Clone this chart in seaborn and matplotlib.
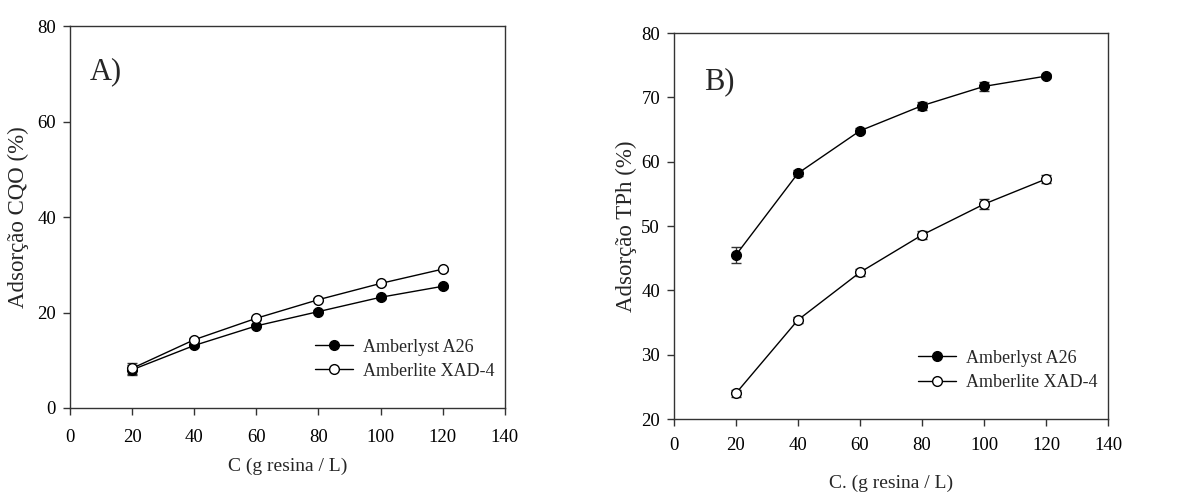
import matplotlib
matplotlib.use("Agg")
import matplotlib.pyplot as plt
import seaborn as sns
import pandas as pd
from matplotlib.lines import Line2D

# Resin dose (g resin / L)
dose = [20, 40, 60, 80, 100, 120]

# COD adsorption (%)
cqo_a26 = [8.0, 13.1, 17.2, 20.2, 23.2, 25.5]
cqo_a26_err = [1.0, 0.3, 0.3, 0.3, 0.3, 0.3]
cqo_xad4 = [8.3, 14.3, 18.8, 22.7, 26.1, 29.1]
cqo_xad4_err = [1.2, 0.4, 0.3, 0.3, 0.3, 0.3]

# Total phenols adsorption (%)
tph_a26 = [45.5, 58.2, 64.8, 68.7, 71.7, 73.3]
tph_a26_err = [1.2, 0.5, 0.4, 0.6, 0.7, 0.3]
tph_xad4 = [24.0, 35.4, 42.8, 48.6, 53.4, 57.3]
tph_xad4_err = [0.5, 0.4, 0.5, 0.6, 0.8, 0.6]

series_names = ["Amberlyst A26", "Amberlite XAD-4"]

sns.set_style("ticks")
plt.rcParams["font.family"] = ["Liberation Serif", "DejaVu Serif"]
plt.rcParams["axes.edgecolor"] = "#333333"
plt.rcParams["axes.linewidth"] = 1.0

fig = plt.figure(figsize=(12.02, 4.95), dpi=100)
ax1 = fig.add_axes([0.0582, 0.1758, 0.3618, 0.7712])
ax2 = fig.add_axes([0.5607, 0.1535, 0.3611, 0.7798])


def draw_panel(ax, y_filled, e_filled, y_open, e_open, xpad, legend_anchor):
    df = pd.DataFrame({
        "dose": dose * 2,
        "val": list(y_filled) + list(y_open),
        "resin": [series_names[0]] * 6 + [series_names[1]] * 6,
    })
    for name, fc, ys, es in [(series_names[0], "black", y_filled, e_filled),
                             (series_names[1], "white", y_open, e_open)]:
        ax.errorbar(dose, ys, yerr=es, fmt="none", ecolor="#333333",
                    elinewidth=1.0, capsize=3.6, capthick=1.0, zorder=2)
        sns.lineplot(data=df[df["resin"] == name], x="dose", y="val", ax=ax,
                     color="black", linewidth=1.0, marker="o", markersize=7,
                     markerfacecolor=fc, markeredgecolor="black",
                     markeredgewidth=1.0, errorbar=None, zorder=3)
    ax.set_xlim(0, 140)
    ax.set_xticks(range(0, 141, 20))
    ax.tick_params(axis="both", direction="out", length=5, width=1.0,
                   labelsize=13.5, colors="#333333", labelcolor="black",
                   top=False, right=False)
    ax.tick_params(axis="x", pad=xpad)
    ax.tick_params(axis="y", pad=5)
    handles = [
        Line2D([], [], color="black", lw=1.0, marker="o", markersize=7,
               markerfacecolor="black", markeredgecolor="black"),
        Line2D([], [], color="black", lw=1.0, marker="o", markersize=7,
               markerfacecolor="white", markeredgecolor="black"),
    ]
    ax.legend(handles, series_names, loc="center left",
              bbox_to_anchor=legend_anchor, frameon=False, fontsize=13,
              handlelength=2.1, handletextpad=0.55, labelspacing=0.4,
              borderpad=0, borderaxespad=0)


draw_panel(ax1, cqo_a26, cqo_a26_err, cqo_xad4, cqo_xad4_err,
           xpad=10, legend_anchor=(0.563, 0.128))
ax1.set_ylim(0, 80)
ax1.set_yticks(range(0, 81, 20))
ax1.set_xlabel("C (g resina / L)", fontsize=14)
ax1.set_ylabel("Adsorção CQO (%)", fontsize=16.5)
ax1.xaxis.set_label_coords(0.5, -0.131)
ax1.yaxis.set_label_coords(-0.094, 0.5)
ax1.text(0.045, 0.88, "A)", transform=ax1.transAxes, fontsize=22,
         va="center", ha="left")

draw_panel(ax2, tph_a26, tph_a26_err, tph_xad4, tph_xad4_err,
           xpad=8, legend_anchor=(0.562, 0.126))
ax2.set_ylim(20, 80)
ax2.set_yticks(range(20, 81, 10))
ax2.set_xlabel("C. (g resina / L)", fontsize=14)
ax2.set_ylabel("Adsorção TPh (%)", fontsize=16.5)
ax2.xaxis.set_label_coords(0.5, -0.145)
ax2.yaxis.set_label_coords(-0.086, 0.5)
ax2.text(0.07, 0.875, "B)", transform=ax2.transAxes, fontsize=22,
         va="center", ha="left")

fig.savefig("out.png", dpi=100, facecolor="white")
